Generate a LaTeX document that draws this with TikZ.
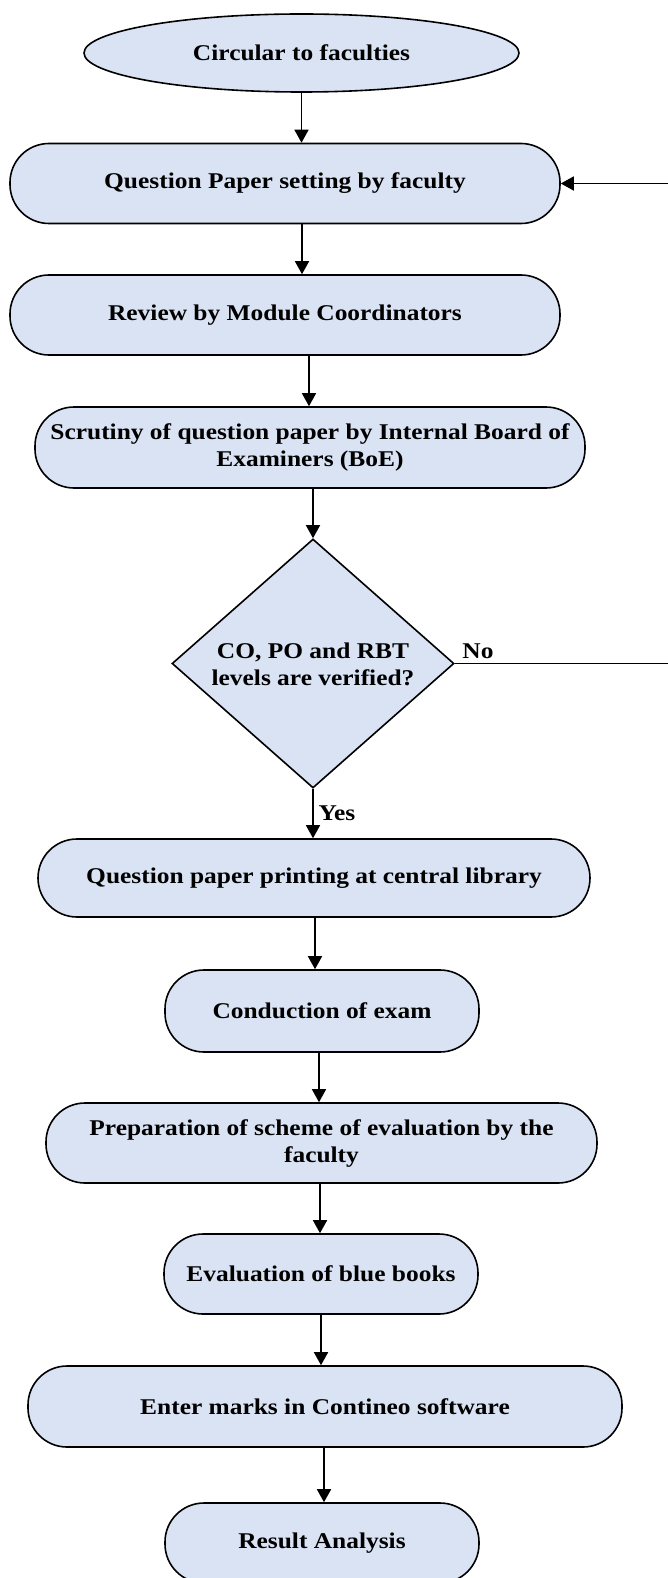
\documentclass[tikz,border=0pt]{standalone}
\usepackage{fontspec}
\setmainfont{Liberation Serif}[FakeStretch=1.13]
\usetikzlibrary{shapes.geometric,arrows.meta}
\definecolor{boxfill}{HTML}{DAE3F3}
\tikzset{
  lbl/.style={font=\fontsize{22.5}{27}\selectfont\bfseries, inner sep=0pt, align=center},
  pill/.style={lbl, draw, line width=1.6pt, fill=boxfill, rounded corners=39pt,
               minimum height=80pt},
  oval/.style={lbl, draw, line width=1.6pt, fill=boxfill, ellipse,
               minimum width=435pt, minimum height=78pt},
  decision/.style={draw, line width=1.6pt, fill=boxfill, diamond, inner sep=0pt,
               minimum width=282pt, minimum height=249pt},
  arr/.style={line width=1.6pt, -{Triangle[width=14pt,length=13pt]}},
}
\begin{document}
\begin{tikzpicture}[x=1pt,y=-1pt]
\useasboundingbox (0,0) rectangle (668,1578);

% process steps
\node[oval] (e) at (301.5,53) {Circular to faculties};
\node[pill, minimum width=550pt] (b2) at (285,183.5) {Question Paper setting by faculty};
\node[pill, minimum width=550pt] (b3) at (285,315) {Review by Module Coordinators};
\node[pill, minimum width=550pt, minimum height=81pt] (b4) at (310,447.5)
  {Scrutiny of question paper by Internal Board of\\Examiners (BoE)};
\node[decision] (d) at (313,663.5) {};
\node[lbl] (dtxt) at (313,664) {CO, PO and RBT\\levels are verified?};
\node[pill, minimum width=552pt, minimum height=78pt] (b6) at (314,878)
  {Question paper printing at central library};
\node[pill, minimum width=314pt, minimum height=82pt] (b7) at (322,1011) {Conduction of exam};
\node[pill, minimum width=551pt] (b8) at (321.5,1143)
  {Preparation of scheme of evaluation by the\\faculty};
\node[pill, minimum width=314pt] (b9) at (321,1274) {Evaluation of blue books};
\node[pill, minimum width=594pt, minimum height=81pt] (b10) at (325,1406.5)
  {Enter marks in Contineo software};
\node[pill, minimum width=314pt] (b11) at (322,1543) {Result Analysis};

% branch labels
\node[lbl] (no) at (478,651) {No};
\node[lbl] (yes) at (337,813) {Yes};

% x positions of the vertical connectors
\coordinate (x2) at (302,0);
\coordinate (x3) at (309,0);
\coordinate (x6) at (315,0);
\coordinate (x7) at (319,0);
\coordinate (x8) at (320,0);
\coordinate (x9) at (321,0);
\coordinate (x10) at (324,0);
\coordinate (rx) at (690,0);

% main flow
\draw[arr] (e.south) -- (e.south |- b2.north);
\draw[arr] (b2.south -| x2) -- (b3.north -| x2);
\draw[arr] (b3.south -| x3) -- (b4.north -| x3);
\draw[arr] (b4.south -| d.north) -- (d.north);
\draw[arr] (d.south) -- (b6.north -| d.south);
\draw[arr] (b6.south -| x6) -- (b7.north -| x6);
\draw[arr] (b7.south -| x7) -- (b8.north -| x7);
\draw[arr] (b8.south -| x8) -- (b9.north -| x8);
\draw[arr] (b9.south -| x9) -- (b10.north -| x9);
\draw[arr] (b10.south -| x10) -- (b11.north -| x10);

% rejection loop back to question paper setting
\draw[arr] (d.east) -- (d.east -| rx) -- (b2.east -| rx) -- (b2.east);
\end{tikzpicture}
\end{document}
